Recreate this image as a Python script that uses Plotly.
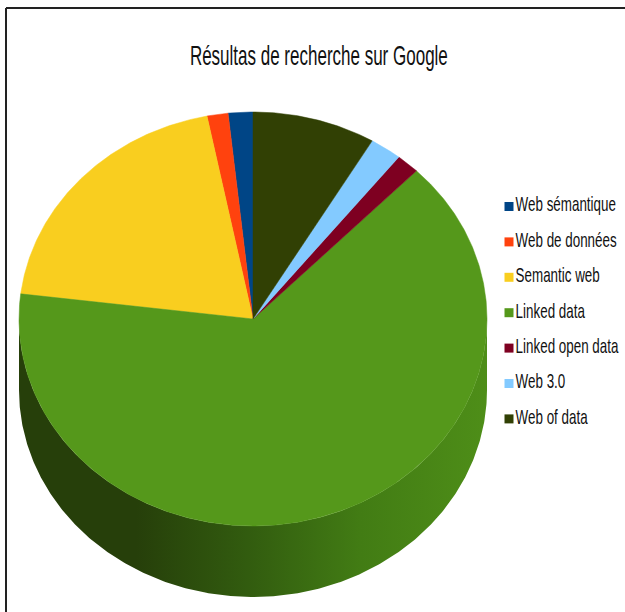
import math
import plotly.graph_objects as go

categories = ["Web sémantique", "Web de données", "Semantic web", "Linked data",
              "Linked open data", "Web 3.0", "Web of data"]
values = [1.7, 1.45, 19.9, 64.6, 1.6, 2.2, 8.5]
colors = ["#004586", "#ff420e", "#f9ce1f", "#55981b", "#7e0021", "#83caff", "#314004"]
title_text = "Résultas de recherche sur Google"

FONT = "Liberation Sans, sans-serif"
CX, CY, RX, RY, DEPTH = 253, 319, 234, 207, 71
TOTAL = sum(values)
SIDE_SCALE = [[0.0, "#263f0a"], [0.25, "#263f0a"], [0.49, "#325c0f"],
              [0.73, "#427c14"], [1.0, "#4e8e18"]]


def pt(deg, dy=0):
    a = math.radians(deg)
    return CX + RX * math.sin(a), CY - RY * math.cos(a) + dy


def arc(a0, a1, dy=0):
    n = max(2, int(abs(a1 - a0) * 2) + 1)
    return [pt(a0 + (a1 - a0) * i / (n - 1), dy) for i in range(n)]


fig = go.Figure()

angles = {}
cur = 0.0
for name, val in reversed(list(zip(categories, values))):
    angles[name] = (cur, cur + val / TOTAL * 360)
    cur += val / TOTAL * 360

# side wall: the visible front part of the slices (90 to 270 degrees)
for name in categories:
    a0, a1 = angles[name]
    lo, hi = max(a0, 90), min(a1, 270)
    if lo >= hi:
        continue
    poly = arc(lo, hi) + arc(hi, lo, DEPTH)
    poly.append(poly[0])
    fig.add_trace(go.Scatter(x=[p[0] for p in poly], y=[p[1] for p in poly],
                             mode="lines", fill="toself",
                             fillgradient=dict(type="horizontal", colorscale=SIDE_SCALE),
                             line=dict(width=0), hoverinfo="skip", showlegend=False))

for name, col, val in zip(categories, colors, values):
    a0, a1 = angles[name]
    poly = [(CX, CY)] + arc(a0, a1) + [(CX, CY)]
    fig.add_trace(go.Scatter(x=[p[0] for p in poly], y=[p[1] for p in poly],
                             mode="lines", fill="toself", fillcolor=col,
                             line=dict(color=col, width=0.5), name=name,
                             text=f"{name}: {val}", hoverinfo="text", showlegend=False))

for i, (name, col) in enumerate(zip(categories, colors)):
    fig.add_trace(go.Scatter(x=[509], y=[206.5 + i * 35.4], mode="markers+text",
                             marker=dict(symbol="square", size=9, color=col),
                             text=[name], textposition="middle right",
                             textfont=dict(family=FONT, size=20, color="#111"),
                             hoverinfo="skip", showlegend=False))

fig.update_layout(
    width=625, height=612, margin=dict(l=0, r=0, t=0, b=0),
    paper_bgcolor="white", plot_bgcolor="white", showlegend=False,
    xaxis=dict(range=[0, 625], visible=False, fixedrange=True),
    yaxis=dict(range=[612, 0], visible=False, fixedrange=True),
    shapes=[
        dict(type="line", xref="x", yref="y", x0=6, x1=6, y0=8, y1=612,
             line=dict(color="#222", width=2)),
        dict(type="line", xref="x", yref="y", x0=6, x1=625, y0=8, y1=8,
             line=dict(color="#222", width=2)),
    ],
    annotations=[dict(text=title_text, x=319, y=56, xref="x", yref="y", showarrow=False,
                      font=dict(family=FONT, size=27, color="#111"))],
)

# The reference's type is horizontally condensed; no narrow face is installed,
# so scale the real text elements in x. Also drop the page's default margin.
post = """
document.body.style.margin = '0';
function squeeze(sel, k) {
  document.querySelectorAll(sel).forEach(function (t) {
    var x = parseFloat(t.getAttribute('x')) || 0;
    t.setAttribute('transform',
      'translate(' + x + ' 0) scale(' + k + ' 1) translate(' + (-x) + ' 0)');
  });
}
squeeze('.annotation-text', 0.63);
squeeze('.textpoint text', 0.67);
"""
fig.write_html("out.html", post_script=post, config={"displayModeBar": False})
